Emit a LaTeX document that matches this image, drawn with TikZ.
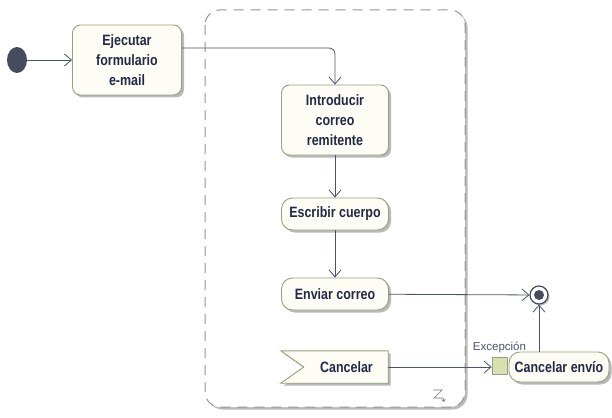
\documentclass[tikz,border=0pt]{standalone}
\usepackage{fontspec}
\usepackage{tikz}
\usetikzlibrary{arrows.meta,positioning,shapes.geometric,shadows}
\newfontfamily\actfont[FakeStretch=0.83]{Liberation Sans}
\newfontfamily\lblfont{Liberation Sans}
\definecolor{actborder}{RGB}{150,160,125}
\definecolor{actfill}{RGB}{253,253,246}
\definecolor{flowcol}{RGB}{75,85,105}
\definecolor{txtcol}{RGB}{35,40,70}
\definecolor{pinfill}{RGB}{215,225,175}
\definecolor{regioncol}{RGB}{150,150,140}
\definecolor{initcol}{RGB}{70,75,95}
\definecolor{shadowcol}{RGB}{185,185,185}

\begin{document}
\begin{tikzpicture}[x=1pt,y=-1pt,>={Straight Barb[length=7pt,width=12pt,line width=0.8pt]},
      act/.style={draw=actborder,fill=actfill,line width=0.9pt,rounded corners=8pt,align=center,text=txtcol,
        font={\actfont\bfseries\fontsize{15pt}{20pt}\selectfont},minimum width=107pt,
        drop shadow={shadow xshift=2.5pt,shadow yshift=-2.5pt,fill=shadowcol,opacity=1}},
      flow/.style={->,draw=flowcol,line width=0.8pt}]
      \useasboundingbox (0,0) rectangle (612,417);
      % interruptible region
      \fill[shadowcol,rounded corners=15pt] (207.5,12.5) rectangle (467.5,409.5);
      \fill[white,rounded corners=15pt] (205,10) rectangle (465,407);
      \draw[regioncol,line width=1pt,dash pattern=on 10pt off 7pt,rounded corners=15pt] (205,10) rectangle (465,407);
      \draw[flowcol!80,line width=0.6pt,-{Straight Barb[length=2.5pt,width=4pt]}] (433,390)--(442,390)--(434,398)--(443,398)--(444,402);
      % actions
      \node[ellipse,fill=initcol,minimum width=20pt,minimum height=26pt,inner sep=0pt] (init) at (17,60) {};
      \node[act,minimum width=109pt,minimum height=70pt] (ejec) at (127,60) {Ejecutar\\formulario\\e-mail};
      \node[act,minimum height=70pt] (intro) at (335,120) {Introducir\\correo\\remitente};
      \node[act,minimum height=32pt,rounded corners=11pt] (escr) at (335,214) {Escribir cuerpo};
      \node[act,minimum height=32pt,rounded corners=11pt] (envi) at (335,294) {Enviar correo};
      % accept event
      \node[minimum width=107pt,minimum height=32pt,inner sep=0pt] (canc) at (334.5,367) {};
      \fill[shadowcol] ([shift={(2.5pt,-2.5pt)}]canc.north west) -- ([shift={(2.5pt,-2.5pt)}]canc.north east)
        -- ([shift={(2.5pt,-2.5pt)}]canc.south east) -- ([shift={(2.5pt,-2.5pt)}]canc.south west)
        -- ([shift={(25.5pt,-2.5pt)}]canc.west) -- cycle;
      \draw[actborder,fill=actfill,line width=0.9pt] (canc.north west) -- (canc.north east) -- (canc.south east)
        -- (canc.south west) -- ([xshift=23pt]canc.west) -- cycle;
      \node[text=txtcol,font={\actfont\bfseries\fontsize{15pt}{20pt}\selectfont}] at ([xshift=12pt]canc.center) {Cancelar};
      % exception handler
      \node[act,minimum width=100pt,minimum height=30pt,rounded corners=11pt] (canenv) at (559,367) {Cancelar envío};
      \node[draw=actborder,fill=pinfill,line width=0.8pt,minimum width=15pt,minimum height=17pt,inner sep=0pt] (pin) at (499.5,366) {};
      \node[above=1pt of pin,text=flowcol,font={\lblfont\fontsize{11.5pt}{13pt}\selectfont}] (exc) {Excepción};
      \node[circle,draw=initcol,fill=white,line width=1.2pt,minimum size=18pt,inner sep=0pt,
        drop shadow={shadow xshift=1.5pt,shadow yshift=-1.5pt,fill=shadowcol,opacity=1}] (fin) at (539,295) {};
      \fill[initcol] (fin.center) circle (5pt);
      % flows
      \draw[flow] (init) -- (ejec);
      \draw[flow,rounded corners=6pt] ([yshift=12pt]ejec.east) -| (intro.north);
      \draw[flow] (intro) -- (escr);
      \draw[flow] (escr) -- (envi);
      \draw[flow] (envi) -- (fin);
      \draw[flow] (canc.east) -- (canc.east -| pin.west);
      \draw[flow] (canenv.north -| fin.south) -- (fin.south);
    \end{tikzpicture}
\end{document}
